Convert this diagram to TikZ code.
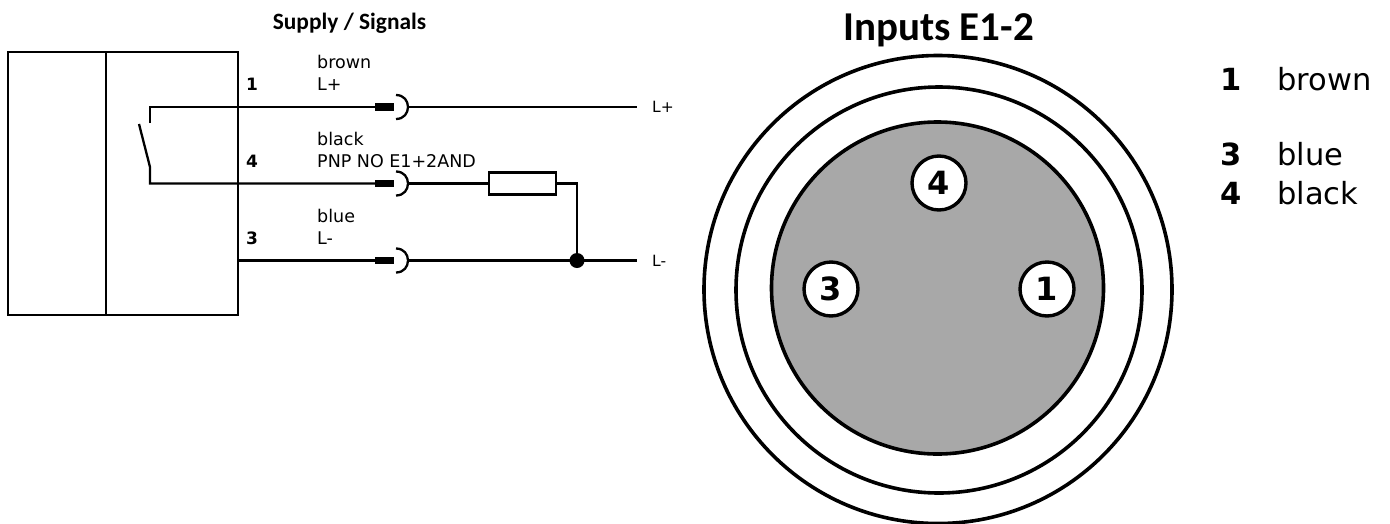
\documentclass[tikz,border=0pt]{standalone}
\usepackage{fontspec}
\setmainfont{DejaVu Sans}
\newfontfamily\titlefont{Carlito}
\begin{document}
\begin{tikzpicture}[x=1pt,y=-1pt,
  wire/.style={line width=2.3pt,black},
  boxline/.style={line width=2.3pt,black},
  plug/.style={fill=black,draw=none,minimum width=19pt,minimum height=7.5pt,inner sep=0pt,outer sep=0pt},
  lab/.style={font=\fontsize{17.5}{20}\selectfont,anchor=base west,inner sep=0pt},
  endlab/.style={font=\fontsize{15.5}{18}\selectfont,anchor=base west,inner sep=0pt},
  num/.style={font=\fontsize{17}{20}\selectfont\bfseries,anchor=base west,inner sep=0pt},
  ring/.style={circle,draw=black,line width=3.6pt,inner sep=0pt,outer sep=0pt},
  pin/.style={circle,draw=black,fill=white,line width=3.4pt,minimum size=54pt,inner sep=0pt,font=\fontsize{32}{36}\selectfont\bfseries},
  leglab/.style={font=\fontsize{30.5}{34}\selectfont,anchor=base west,inner sep=0pt},
  legnum/.style={font=\fontsize{30.5}{34}\selectfont\bfseries,anchor=base west,inner sep=0pt}]
\useasboundingbox (0,0) rectangle (1390,523);
\fill[white] (0,0) rectangle (1390,523);
% titles
\node[font=\titlefont\fontsize{23.4}{26}\selectfont\bfseries,anchor=base,inner sep=0pt] (title1) at (349.5,29) {Supply / Signals};
\node[font=\titlefont\fontsize{41}{46}\selectfont\bfseries,anchor=base,inner sep=0pt] (title2) at (938.5,40) {Inputs E1-2};
% housing
\node[draw=black,line width=2.3pt,minimum width=230pt,minimum height=263pt,inner sep=0pt,outer sep=0pt] (house) at (123,183.5) {};
\coordinate (divT) at (106,52); \coordinate (divB) at (106,315);
\draw[boxline] (divT) -- (divB);
% labels
\node[num] (n1) at (246,90) {1};
\node[num] (n4) at (246,167) {4};
\node[num] (n3) at (246,244) {3};
\node[lab] (l1a) at (317,68) {brown};
\node[lab] (l1b) at (317,90) {L+};
\node[lab] (l4a) at (317,145) {black};
\node[lab] (l4b) at (317,167) {PNP NO E1+2AND};
\node[lab] (l3a) at (317,222) {blue};
\node[lab] (l3b) at (317,244) {L-};
% plugs
\node[plug] (p1) at (384.5,107) {};
\node[plug] (p4) at (384.5,183.5) {};
\node[plug] (p3) at (384.5,260.5) {};
\coordinate (s1a) at (396,95); \coordinate (s1b) at (396,119); \coordinate (s1) at (408,107);
\coordinate (s4a) at (396,171.5); \coordinate (s4b) at (396,195.5); \coordinate (s4) at (408,183.5);
\coordinate (s3a) at (396,248.5); \coordinate (s3b) at (396,272.5); \coordinate (s3) at (408,260.5);
\draw[wire] (s1a) .. controls (412,95) and (412,119) .. (s1b);
\draw[wire] (s4a) .. controls (412,171.5) and (412,195.5) .. (s4b);
\draw[wire] (s3a) .. controls (412,248.5) and (412,272.5) .. (s3b);
% switch
\coordinate (swT) at (150,123);
\coordinate (swC) at (150,107);
\coordinate (swB) at (150,167);
\coordinate (swD) at (150,183.5);
\coordinate (swO) at (139,124);
\coordinate (w3) at (238,260.5);
\draw[wire] (swT) -- (swC) -- (p1.west);
\draw[wire] (swO) -- (swB) -- (swD) -- (p4.west);
\draw[wire] (w3) -- (p3.west);
% resistor and out wires
\node[draw=black,line width=2.3pt,minimum width=67pt,minimum height=22pt,inner sep=0pt,outer sep=0pt] (res) at (522.5,183.5) {};
\node[endlab] (Lp) at (652,112) {L+};
\node[endlab] (Lm) at (652,266) {L-};
\coordinate (e1) at (637,107);
\coordinate (e3) at (637,260.5);
\coordinate (bend) at (577,183.5);
\node[circle,fill=black,minimum size=15pt,inner sep=0pt] (dot) at (577,260.5) {};
\draw[wire] (s1) -- (e1);
\draw[wire] (s4) -- (res.west);
\draw[wire] (s3) -- (e3);
\draw[wire] (res.east) -- (bend) -- (dot.center);
% connector face
\node[ring,minimum size=468pt] (r1) at (938,289.5) {};
\node[ring,minimum size=406pt] (r2) at (939,290) {};
\node[ring,fill=black!34,minimum size=332pt] (r3) at (937.5,288) {};
\node[pin] (pin4) at (939,183) {4};
\node[pin] (pin3) at (831,289) {3};
\node[pin] (pin1) at (1047,289) {1};
% legend
\node[legnum] (k1) at (1220,90) {1};
\node[leglab] (t1) at (1277,90) {brown};
\node[legnum] (k3) at (1220,165) {3};
\node[leglab] (t3) at (1277,165) {blue};
\node[legnum] (k4) at (1220,204) {4};
\node[leglab] (t4) at (1277,204) {black};
\end{tikzpicture}
\end{document}
